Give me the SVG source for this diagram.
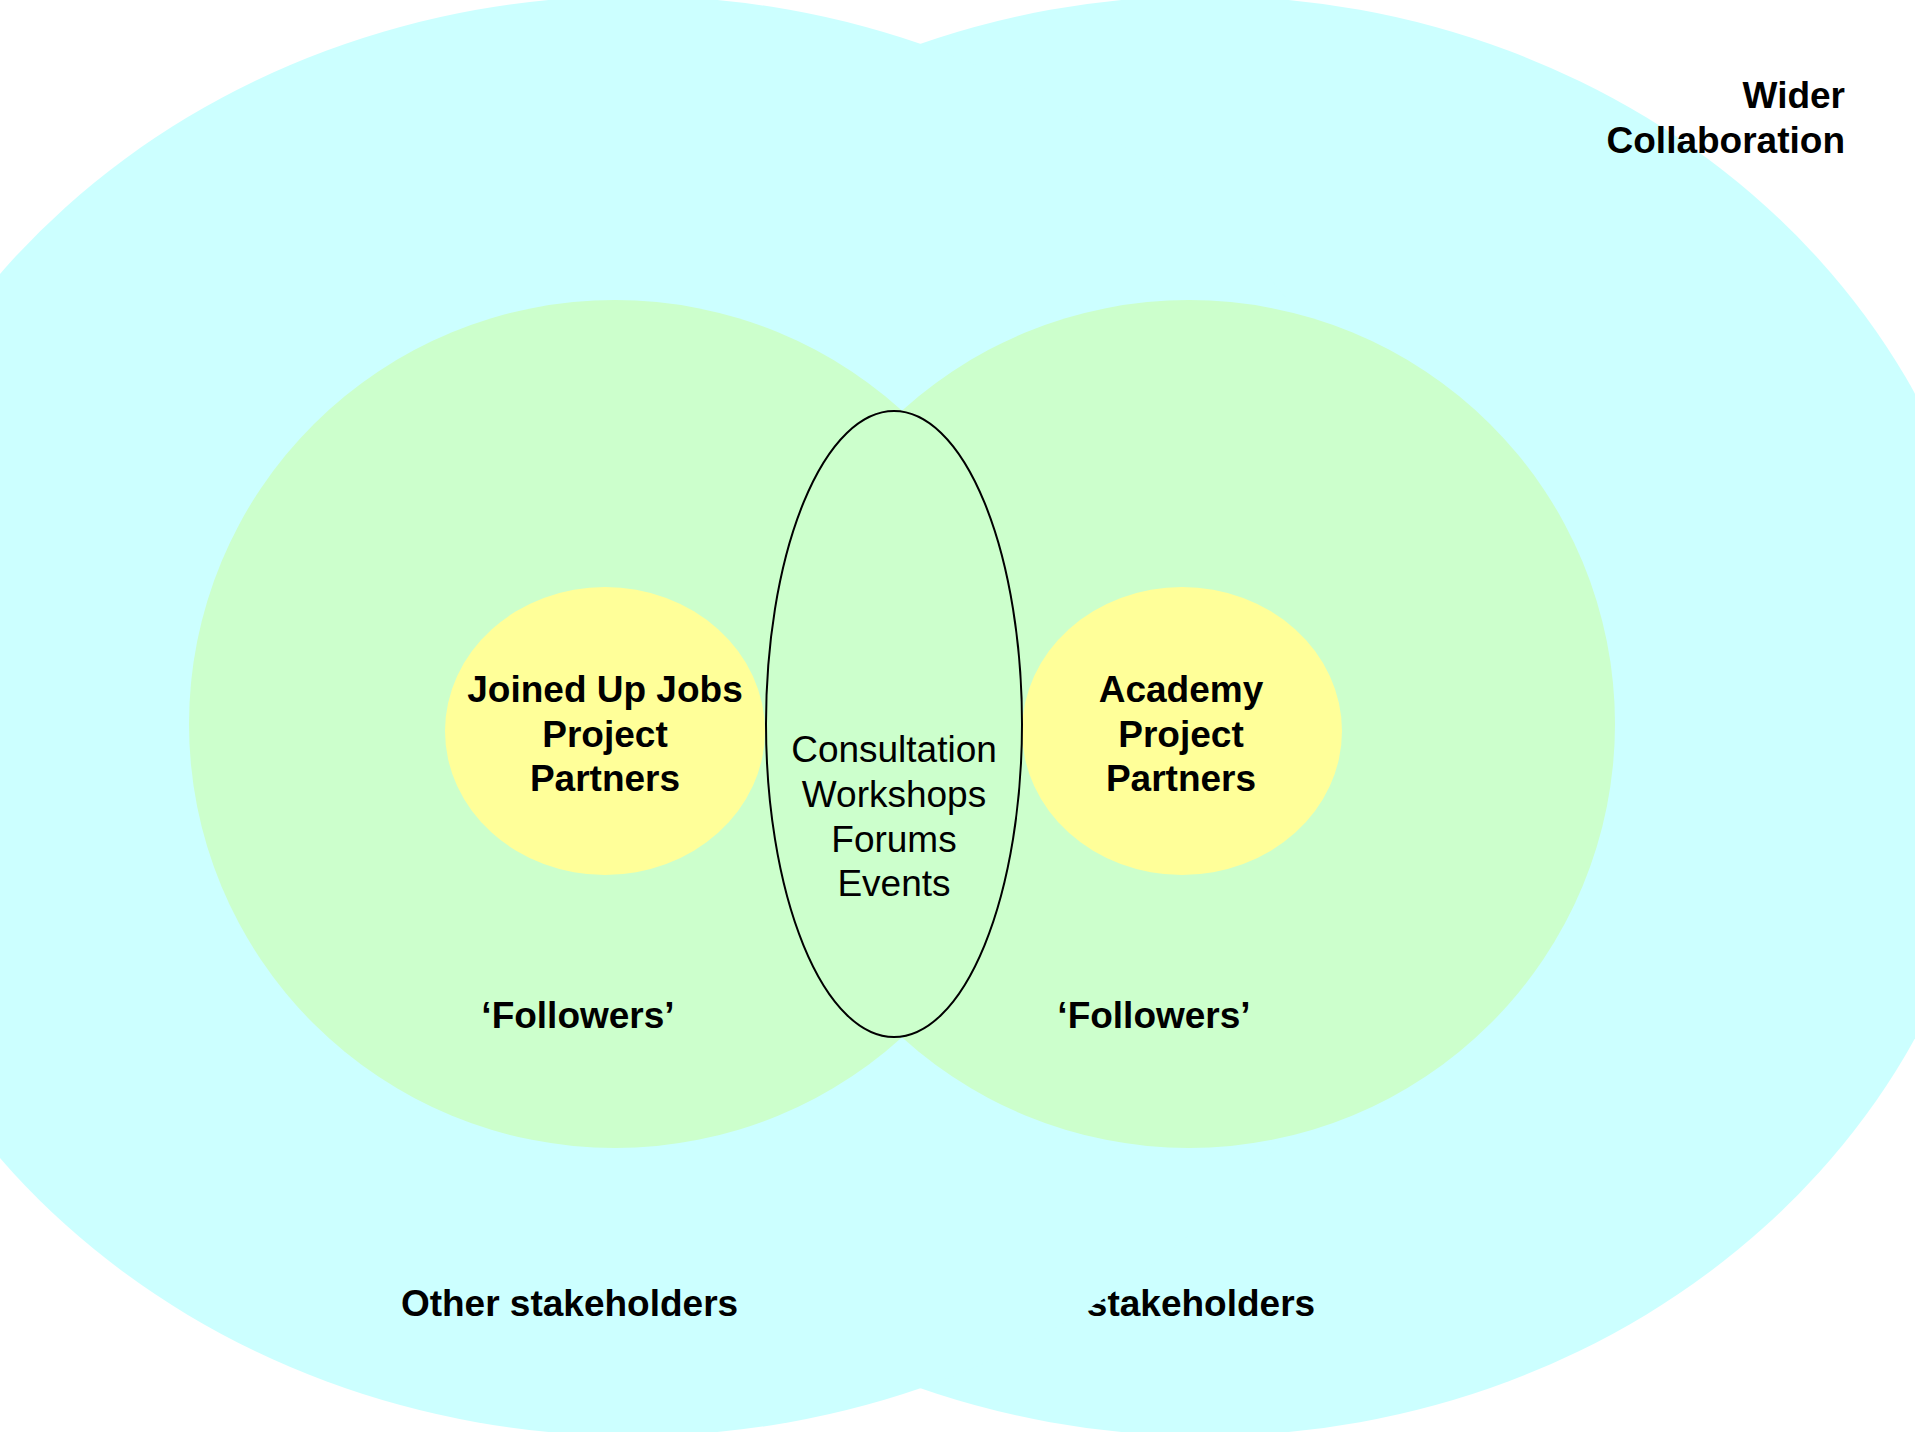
<svg xmlns="http://www.w3.org/2000/svg" width="1915" height="1432" viewBox="0 0 1915 1432">
<style>
.cyan{fill:#CCFFFF}
.green{fill:#CCFFCC}
.yellow{fill:#FFFF99}
.b{font-family:"Liberation Sans",Arial,sans-serif;font-weight:bold;font-size:37px;fill:#000;text-anchor:middle}
.r{font-family:"Liberation Sans",Arial,sans-serif;font-size:37px;fill:#000;text-anchor:middle}
</style>
<rect width="1915" height="1432" fill="#FFFFFF"/>
<g id="wider-right">
<ellipse class="cyan" cx="1205" cy="716" rx="794" ry="720"/>
<text class="b" x="1146.5" y="1316">Other stakeholders</text>
</g>
<g id="wider-left">
<ellipse class="cyan" cx="633" cy="716" rx="802" ry="720"/>
<text class="b" x="569.5" y="1316">Other stakeholders</text>
</g>
<g id="wider-label">
<text class="b" x="1845" y="107.5" style="text-anchor:end">Wider</text>
<text class="b" x="1845" y="152.5" style="text-anchor:end">Collaboration</text>
</g>
<g id="followers-left">
<ellipse class="green" cx="615" cy="724" rx="426" ry="424"/>
<text class="b" x="578" y="1028">‘Followers’</text>
</g>
<g id="followers-right">
<ellipse class="green" cx="1189" cy="724" rx="426" ry="424"/>
<text class="b" x="1154" y="1028">‘Followers’</text>
</g>
<g id="jobs-partners">
<ellipse class="yellow" cx="605" cy="731" rx="160" ry="144"/>
<text class="b" x="605" y="702">Joined Up Jobs</text>
<text class="b" x="605" y="747">Project</text>
<text class="b" x="605" y="791">Partners</text>
</g>
<g id="academy-partners">
<ellipse class="yellow" cx="1182" cy="731" rx="160" ry="144"/>
<text class="b" x="1181" y="702">Academy</text>
<text class="b" x="1181" y="747">Project</text>
<text class="b" x="1181" y="791">Partners</text>
</g>
<g id="consultation">
<ellipse cx="894" cy="724" rx="128" ry="313" fill="#CCFFCC" stroke="#000" stroke-width="2"/>
<text class="r" x="894" y="762">Consultation</text>
<text class="r" x="894" y="807">Workshops</text>
<text class="r" x="894" y="852">Forums</text>
<text class="r" x="894" y="896">Events</text>
</g>
<g id="connectors"/>
</svg>
